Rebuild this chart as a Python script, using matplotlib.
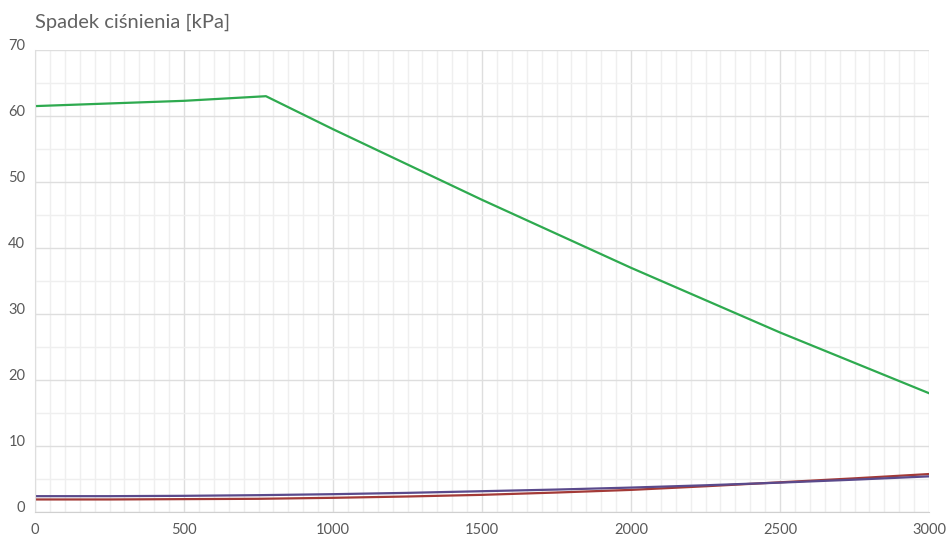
import numpy as np
import matplotlib.pyplot as plt
import matplotlib.transforms as mtransforms
from matplotlib.ticker import MultipleLocator

# przepływ [x] i spadki ciśnienia [kPa]
x_green = [0, 250, 500, 775, 1000, 1500, 2000, 2500, 3000]
y_green = [61.5, 61.9, 62.3, 63.0, 58.0, 47.3, 37.0, 27.2, 18.0]

x_low = [0, 250, 500, 750, 1000, 1250, 1500, 1750, 2000, 2250, 2500, 2750, 3000]
y_purple = [2.4, 2.4, 2.45, 2.55, 2.7, 2.9, 3.15, 3.4, 3.7, 4.05, 4.45, 4.9, 5.4]
y_red = [1.9, 1.9, 1.95, 2.0, 2.15, 2.35, 2.6, 2.95, 3.35, 3.9, 4.5, 5.1, 5.75]

plt.rcParams['font.family'] = ['Lato', 'DejaVu Sans']

fig = plt.figure(figsize=(9.46, 5.36), dpi=100)
ax = fig.add_axes([35 / 946, 24 / 536, 894 / 946, 462 / 536])

ax.plot(x_low, y_red, '-', color='#a33a37', lw=1.6)
ax.plot(x_low, y_purple, '-', color='#5a4a8c', lw=1.6)
ax.plot(x_green, y_green, '-', color='#2eaa4f', lw=1.6)

ax.set_xlim(0, 3000)
ax.set_ylim(0, 70)
ax.xaxis.set_major_locator(MultipleLocator(500))
ax.xaxis.set_minor_locator(MultipleLocator(50))
ax.yaxis.set_major_locator(MultipleLocator(10))
ax.yaxis.set_minor_locator(MultipleLocator(5))
ax.grid(which='major', color='#dedede', lw=1.0)
ax.grid(which='minor', color='#efefef', lw=1.0)
ax.set_axisbelow(True)

for side in ['top', 'right']:
    ax.spines[side].set_visible(False)
ax.spines['left'].set_color('#dedede')
ax.spines['bottom'].set_color('#d0d0d0')

ax.tick_params(which='both', length=0, colors='#595959', labelsize=10.5)
ax.tick_params(axis='y', pad=7)
ax.tick_params(axis='x', pad=8)

# etykiety osi Y lekko nad liniami siatki
shift = mtransforms.ScaledTranslation(0, 5 / 100, fig.dpi_scale_trans)
for lbl in ax.get_yticklabels():
    lbl.set_transform(lbl.get_transform() + shift)

fig.text(35 / 946, 1 - 22 / 536, 'Spadek ciśnienia [kPa]', fontsize=14.5,
         color='#626262', va='center', ha='left')

fig.savefig('out.png', dpi=100)
